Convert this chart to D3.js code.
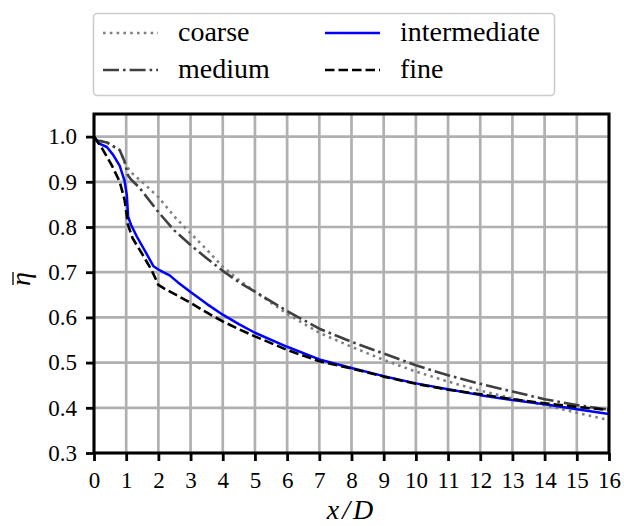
<!DOCTYPE html>
<html>
<head>
<meta charset="utf-8">
<script src="https://cdn.jsdelivr.net/npm/d3@7"></script>
<style>
  body { margin: 0; background: #fff; }
  svg { display: block; font-family: "Liberation Serif", "Times New Roman", serif; }
</style>
</head>
<body>
<script>
// values
var xTicks = [0, 1, 2, 3, 4, 5, 6, 7, 8, 9, 10, 11, 12, 13, 14, 15, 16];
var yTicks = [0.3, 0.4, 0.5, 0.6, 0.7, 0.8, 0.9, 1.0];

var coarseX = [0, 0.4, 0.8, 1.0, 1.2, 1.6, 2.0, 2.5, 3.0, 3.5, 4.0, 4.5, 5, 6, 7, 8, 9, 10, 11, 12, 13, 14, 15, 16];
var coarseY = [0.995, 0.987, 0.97, 0.935, 0.918, 0.893, 0.866, 0.823, 0.786, 0.75, 0.712, 0.683, 0.657, 0.608, 0.566, 0.535, 0.506, 0.48, 0.458, 0.438, 0.421, 0.406, 0.389, 0.373];

var mediumX = [0, 0.4, 0.8, 0.95, 1.05, 1.15, 1.4, 2.0, 2.5, 3.0, 3.5, 4.0, 4.5, 5, 6, 7, 8, 9, 10, 11, 12, 13, 14, 15, 16];
var mediumY = [0.993, 0.987, 0.97, 0.945, 0.915, 0.905, 0.888, 0.833, 0.792, 0.76, 0.731, 0.703, 0.678, 0.657, 0.614, 0.575, 0.546, 0.52, 0.494, 0.472, 0.453, 0.436, 0.419, 0.406, 0.396];

var interX = [0, 0.15, 0.4, 0.6, 0.8, 0.95, 1.02, 1.06, 1.15, 1.33, 1.6, 1.85, 2.0, 2.15, 2.35, 2.6, 3.0, 3.5, 4, 4.5, 5, 6, 7, 8, 9, 10, 11, 12, 13, 14, 15, 16];
var interY = [1.0, 0.985, 0.977, 0.959, 0.935, 0.902, 0.87, 0.823, 0.805, 0.779, 0.745, 0.713, 0.706, 0.7, 0.693, 0.678, 0.656, 0.63, 0.606, 0.585, 0.566, 0.535, 0.507, 0.488, 0.47, 0.454, 0.441, 0.428, 0.417, 0.408, 0.397, 0.386];

var fineX = [0, 0.25, 0.55, 0.8, 0.95, 1.0, 1.05, 1.2, 1.5, 1.8, 2.0, 2.2, 2.6, 3.0, 3.5, 4, 4.5, 5, 6, 7, 8, 9, 10, 11, 12, 13, 14, 15, 16];
var fineY = [1.0, 0.974, 0.937, 0.9, 0.86, 0.835, 0.806, 0.775, 0.74, 0.703, 0.672, 0.663, 0.648, 0.632, 0.611, 0.591, 0.574, 0.558, 0.528, 0.503, 0.487, 0.469, 0.453, 0.44, 0.43, 0.419, 0.41, 0.402, 0.395];

var seriesNames = ["coarse", "medium", "intermediate", "fine"];

var width = 624, height = 526;
var margin = {left: 94, right: 15, top: 114, bottom: 73};

var svg = d3.select("body").append("svg")
  .attr("width", width)
  .attr("height", height);

var x = d3.scaleLinear().domain([0, 16]).range([margin.left, width - margin.right]);
var y = d3.scaleLinear().domain([0.3, 1.05]).range([height - margin.bottom, margin.top]);

// grid
svg.append("g")
  .selectAll("line.vg")
  .data(xTicks)
  .enter().append("line")
    .attr("x1", d => x(d)).attr("x2", d => x(d))
    .attr("y1", y.range()[1]).attr("y2", y.range()[0])
    .attr("stroke", "#b0b0b0").attr("stroke-width", 2.7);

svg.append("g")
  .selectAll("line.hg")
  .data(yTicks)
  .enter().append("line")
    .attr("x1", x.range()[0]).attr("x2", x.range()[1])
    .attr("y1", d => y(d)).attr("y2", d => y(d))
    .attr("stroke", "#b0b0b0").attr("stroke-width", 2.7);

var styles = {
  coarse:       {color: "#808080", width: 2.6, dash: "2.6,4.2"},
  medium:       {color: "#404040", width: 2.6, dash: "16,4,2.6,4"},
  intermediate: {color: "#0000ff", width: 2.5, dash: null},
  fine:         {color: "#000000", width: 2.6, dash: "9.5,4"}
};

var seriesData = {
  coarse: d3.zip(coarseX, coarseY),
  medium: d3.zip(mediumX, mediumY),
  intermediate: d3.zip(interX, interY),
  fine: d3.zip(fineX, fineY)
};

var line = d3.line()
  .x(d => x(d[0]))
  .y(d => y(d[1]));

svg.append("defs").append("clipPath").attr("id", "clip")
  .append("rect")
    .attr("x", margin.left).attr("y", margin.top)
    .attr("width", x.range()[1] - x.range()[0])
    .attr("height", y.range()[0] - y.range()[1]);

var lines = svg.append("g").attr("clip-path", "url(#clip)");
seriesNames.forEach(function(name) {
  var s = styles[name];
  lines.append("path")
    .datum(seriesData[name])
    .attr("fill", "none")
    .attr("stroke", s.color)
    .attr("stroke-width", s.width)
    .attr("stroke-dasharray", s.dash)
    .attr("stroke-linejoin", "round")
    .attr("d", line);
});

// axes
var xAxis = svg.append("g")
  .attr("transform", "translate(0," + y.range()[0] + ")")
  .call(d3.axisBottom(x).tickValues(xTicks).tickFormat(d3.format("d")).tickSizeInner(8).tickSizeOuter(0).tickPadding(10));

var yAxis = svg.append("g")
  .attr("transform", "translate(" + x.range()[0] + ",0)")
  .call(d3.axisLeft(y).tickValues(yTicks).tickFormat(d3.format(".1f")).tickSizeInner(8).tickSizeOuter(0).tickPadding(9));

[xAxis, yAxis].forEach(function(a) {
  a.select(".domain").remove();
  a.selectAll(".tick line").attr("stroke", "#000").attr("stroke-width", 2.8);
  a.selectAll(".tick text")
    .attr("fill", "#000")
    .style("font-family", "Liberation Serif, serif")
    .style("font-size", "23px");
});
xAxis.selectAll(".tick text").attr("dy", "0.72em");

// frame
svg.append("rect")
  .attr("x", x.range()[0]).attr("y", y.range()[1])
  .attr("width", x.range()[1] - x.range()[0])
  .attr("height", y.range()[0] - y.range()[1])
  .attr("fill", "none")
  .attr("stroke", "#000")
  .attr("stroke-width", 3);

// axis labels
svg.append("text")
  .attr("x", (x.range()[0] + x.range()[1]) / 2)
  .attr("y", 519)
  .attr("text-anchor", "middle")
  .style("font-size", "28px")
  .style("font-style", "italic")
  .style("letter-spacing", "3px")
  .text("x/D");

var yl = svg.append("g").attr("transform", "translate(30,279) rotate(-90)");
yl.append("text")
  .attr("x", 0).attr("y", 0)
  .attr("text-anchor", "middle")
  .style("font-size", "28px")
  .style("font-style", "italic")
  .text("η");
yl.append("line")
  .attr("x1", -6).attr("x2", 7)
  .attr("y1", -17).attr("y2", -17)
  .attr("stroke", "#000").attr("stroke-width", 1.3);

// legend
var legend = svg.append("g");
legend.append("rect")
  .attr("x", 93.5).attr("y", 13.5)
  .attr("width", 461).attr("height", 82)
  .attr("rx", 4)
  .attr("fill", "#fff")
  .attr("fill-opacity", 0.8)
  .attr("stroke", "#cccccc")
  .attr("stroke-width", 1.6);

var legendPos = {
  coarse:       {hx: 103, tx: 178, ty: 33},
  medium:       {hx: 103, tx: 178, ty: 70},
  intermediate: {hx: 325, tx: 400, ty: 33},
  fine:         {hx: 325, tx: 400, ty: 70}
};

seriesNames.forEach(function(name) {
  var s = styles[name], p = legendPos[name];
  legend.append("line")
    .attr("x1", p.hx).attr("x2", p.hx + 55)
    .attr("y1", p.ty).attr("y2", p.ty)
    .attr("stroke", s.color)
    .attr("stroke-width", s.width)
    .attr("stroke-dasharray", s.dash);
  legend.append("text")
    .attr("x", p.tx).attr("y", p.ty + 8)
    .style("font-size", "28px")
    .text(name);
});
</script>
</body>
</html>
